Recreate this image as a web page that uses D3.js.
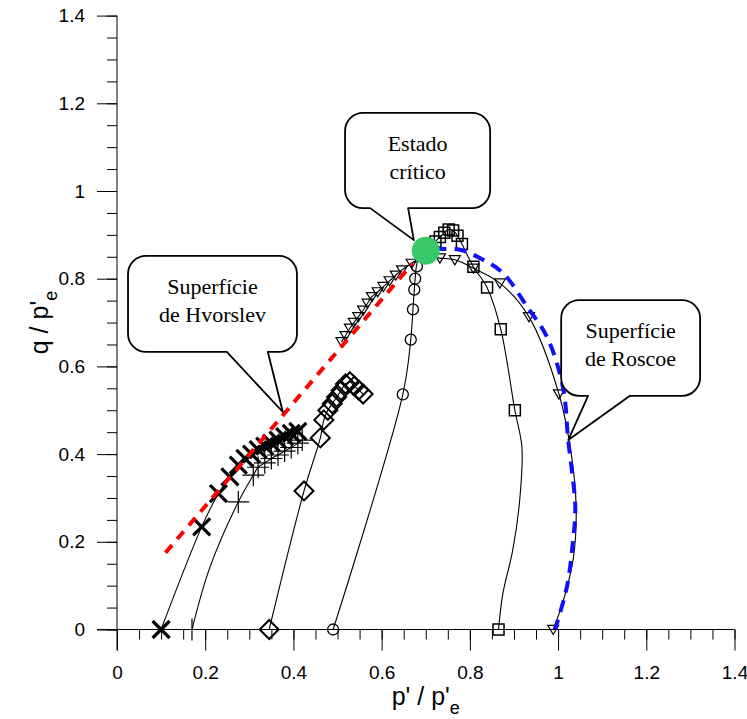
<!DOCTYPE html>
<html lang="en">
<head>
    <meta charset="UTF-8">
    <title>Trajetórias de tensões q/p'e x p'/p'e</title>
    <script src="https://d3js.org/d3.v7.min.js"></script>
    <style>
        * { margin: 0; padding: 0; }
        body { background: #fff; }
    </style>
</head>
<body>
    <script>
        var width = 747;
        var height = 719;

        // axis ticks
        var pTicks = [0, 0.2, 0.4, 0.6, 0.8, 1, 1.2, 1.4];
        var qTicks = [0, 0.2, 0.4, 0.6, 0.8, 1, 1.2, 1.4];
        var minorTicks = d3.range(0, 1.4001, 0.05);

        // series: [p'/p'e, q/p'e]
        var crossPath = [[0.10, 0], [0.192, 0.234], [0.23, 0.31], [0.256, 0.348], [0.275, 0.375], [0.29, 0.39], [0.305, 0.40], [0.32, 0.41], [0.335, 0.418], [0.35, 0.425], [0.365, 0.432], [0.38, 0.44], [0.395, 0.447], [0.41, 0.452]];
        var crossMarks = crossPath;

        var plusPath = [[0.17, 0], [0.21, 0.14], [0.275, 0.291], [0.309, 0.352], [0.32, 0.37], [0.335, 0.38], [0.35, 0.39], [0.365, 0.398], [0.38, 0.407], [0.395, 0.415], [0.41, 0.425], [0.42, 0.432]];
        var plusMarks = [[0.17, 0], [0.275, 0.291], [0.309, 0.352], [0.32, 0.37], [0.335, 0.38], [0.35, 0.39], [0.365, 0.398], [0.38, 0.407], [0.395, 0.415], [0.41, 0.425], [0.42, 0.432]];

        var diamondPath = [[0.345, 0], [0.424, 0.316], [0.461, 0.437], [0.469, 0.478], [0.478, 0.5], [0.488, 0.515], [0.498, 0.53], [0.508, 0.545], [0.518, 0.56], [0.528, 0.565], [0.538, 0.555], [0.548, 0.546], [0.558, 0.537]];
        var diamondMarks = diamondPath;

        var circlePath = [[0.49, 0], [0.648, 0.536], [0.666, 0.661], [0.671, 0.73], [0.674, 0.775], [0.676, 0.80], [0.68, 0.835], [0.69, 0.86]];
        var circleMarks = [[0.49, 0], [0.648, 0.536], [0.666, 0.661], [0.671, 0.73], [0.674, 0.775], [0.676, 0.80], [0.68, 0.828]];

        var squarePath = [[0.865, 0], [0.875, 0.083], [0.897, 0.18], [0.913, 0.295], [0.918, 0.416], [0.902, 0.5], [0.87, 0.685], [0.839, 0.78], [0.808, 0.827], [0.782, 0.879], [0.772, 0.898], [0.762, 0.91], [0.752, 0.912], [0.742, 0.905], [0.732, 0.895], [0.722, 0.885], [0.712, 0.872]];
        var squareMarks = [[0.865, 0], [0.902, 0.5], [0.87, 0.685], [0.839, 0.78], [0.808, 0.827], [0.782, 0.879], [0.772, 0.898], [0.762, 0.91], [0.752, 0.912], [0.742, 0.905], [0.732, 0.895], [0.722, 0.885]];

        var triPath = [[0.989, 0], [1.012, 0.066], [1.035, 0.165], [1.041, 0.278], [1.03, 0.40], [1.002, 0.537], [0.934, 0.713], [0.868, 0.79], [0.808, 0.824], [0.766, 0.843], [0.732, 0.847], [0.70, 0.852]];
        var triMarks = [[0.989, 0], [1.002, 0.537], [0.934, 0.713], [0.868, 0.79], [0.808, 0.824], [0.766, 0.843], [0.732, 0.847]];

        var tri2Path = [[0.509, 0.656], [0.518, 0.67], [0.528, 0.687], [0.537, 0.70], [0.547, 0.713], [0.558, 0.728], [0.568, 0.744], [0.578, 0.759], [0.591, 0.77], [0.604, 0.782], [0.618, 0.795], [0.632, 0.808], [0.646, 0.82], [0.668, 0.835], [0.69, 0.85]];
        var tri2Marks = tri2Path;

        // surfaces
        var hvorslev = [[0.11, 0.175], [0.67, 0.835]];
        var roscoe = [[0.72, 0.868], [0.739, 0.868], [0.778, 0.866], [0.83, 0.843], [0.875, 0.813], [0.93, 0.736], [0.975, 0.667], [1.011, 0.553], [1.023, 0.432], [1.039, 0.279], [1.034, 0.204], [1.02, 0.097], [0.993, 0]];
        var criticalState = [0.70, 0.864];

        // callouts: box [left, top, right, bottom], gap on bottom edge, tip  (data units)
        var callouts = [
            { lines: ['Estado', 'crítico'], box: [0.517, 1.178, 0.846, 0.961], gap: [0.574, 0.66], tip: [0.673, 0.888] },
            { lines: ['Superfície', 'de Hvorslev'], box: [0.025, 0.852, 0.408, 0.633], gap: [0.249, 0.342], tip: [0.376, 0.496] },
            { lines: ['Superfície', 'de Roscoe'], box: [1.007, 0.751, 1.322, 0.533], gap: [1.068, 1.163], tip: [1.023, 0.432] }
        ];

        var svg = d3.select('body').append('svg')
            .attr('width', width)
            .attr('height', height);

        var x = d3.scaleLinear().domain([0, 1.4]).range([117, 734.5]);
        var y = d3.scaleLinear().domain([0, 1.4]).range([629.5, 15.6]);

        // axes
        var axisFont = '"Liberation Sans", Arial, sans-serif';

        svg.append('g')
            .attr('transform', 'translate(0,' + y(0) + ')')
            .call(d3.axisBottom(x).tickValues(minorTicks).tickSize(10).tickFormat('').tickSizeOuter(0));
        svg.append('g')
            .attr('transform', 'translate(0,' + y(0) + ')')
            .call(d3.axisBottom(x).tickValues(pTicks).tickSize(21).tickPadding(15).tickFormat(d3.format('~g')).tickSizeOuter(0));
        svg.append('g')
            .attr('transform', 'translate(' + x(0) + ',0)')
            .call(d3.axisLeft(y).tickValues(minorTicks).tickSize(10).tickFormat('').tickSizeOuter(0));
        svg.append('g')
            .attr('transform', 'translate(' + x(0) + ',0)')
            .call(d3.axisLeft(y).tickValues(qTicks).tickSize(20).tickPadding(12).tickFormat(d3.format('~g')).tickSizeOuter(0));

        svg.selectAll('.domain').remove();
        svg.selectAll('.tick line').attr('stroke', '#000');
        svg.selectAll('.tick text')
            .attr('fill', '#000')
            .style('font-family', axisFont)
            .style('font-size', '19px');

        svg.append('line')
            .attr('x1', x(0)).attr('x2', x(0))
            .attr('y1', y(1.4)).attr('y2', y(0) + 21)
            .attr('stroke', '#000');
        svg.append('line')
            .attr('x1', x(0) - 20).attr('x2', x(1.4))
            .attr('y1', y(0)).attr('y2', y(0))
            .attr('stroke', '#000');

        // axis titles
        var xt = svg.append('text')
            .attr('x', (x(0) + x(1.4)) / 2)
            .attr('y', 705)
            .attr('text-anchor', 'middle')
            .style('font-family', axisFont)
            .style('font-size', '25px');
        xt.append('tspan').text("p' / p'");
        xt.append('tspan').attr('dy', 9).style('font-size', '18px').text('e');

        var yt = svg.append('text')
            .attr('transform', 'translate(48,' + ((y(0) + y(1.4)) / 2) + ') rotate(-90)')
            .attr('text-anchor', 'middle')
            .style('font-family', axisFont)
            .style('font-size', '25px');
        yt.append('tspan').text("q / p'");
        yt.append('tspan').attr('dy', 9).style('font-size', '18px').text('e');

        // markers
        function markerPath(type, s) {
            var h = s / 2;
            if (type === 'cross') return 'M' + (-h) + ',' + (-h) + 'L' + h + ',' + h + 'M' + (-h) + ',' + h + 'L' + h + ',' + (-h);
            if (type === 'plus') return 'M0,' + (-h) + 'V' + h + 'M' + (-h) + ',0H' + h;
            if (type === 'diamond') return 'M0,' + (-h) + 'L' + h + ',0L0,' + h + 'L' + (-h) + ',0Z';
            if (type === 'square') return 'M' + (-h) + ',' + (-h) + 'H' + h + 'V' + h + 'H' + (-h) + 'Z';
            if (type === 'tri') return 'M' + (-h) + ',' + (-h * 0.75) + 'H' + h + 'L0,' + (h * 0.9) + 'Z';
            if (type === 'circle') return d3.arc()({ innerRadius: 0, outerRadius: h, startAngle: 0, endAngle: 2 * Math.PI });
        }

        var line = d3.line()
            .x(function (d) { return x(d[0]); })
            .y(function (d) { return y(d[1]); })
            .curve(d3.curveCatmullRom.alpha(0.5));

        var series = [
            { path: crossPath, marks: crossMarks, type: 'cross', size: 17, sw: 3.2 },
            { path: plusPath, marks: plusMarks, type: 'plus', size: 22, sw: 1.2 },
            { path: diamondPath, marks: diamondMarks, type: 'diamond', size: 19, sw: 2 },
            { path: circlePath, marks: circleMarks, type: 'circle', size: 11, sw: 1.3 },
            { path: squarePath, marks: squareMarks, type: 'square', size: 11, sw: 1.5 },
            { path: triPath, marks: triMarks, type: 'tri', size: 11, sw: 1.2 },
            { path: tri2Path, marks: tri2Marks, type: 'tri', size: 11, sw: 1.2 }
        ];

        series.forEach(function (s) {
            svg.append('path')
                .datum(s.path)
                .attr('d', line)
                .attr('fill', 'none')
                .attr('stroke', '#000')
                .attr('stroke-width', 1.1);
            svg.append('g').selectAll('path')
                .data(s.marks)
                .enter()
                .append('path')
                .attr('transform', function (d) { return 'translate(' + x(d[0]) + ',' + y(d[1]) + ')'; })
                .attr('d', markerPath(s.type, s.size))
                .attr('fill', 'none')
                .attr('stroke', '#000')
                .attr('stroke-width', s.sw);
        });

        // Hvorslev and Roscoe surfaces
        svg.append('path')
            .datum(hvorslev)
            .attr('d', line)
            .attr('fill', 'none')
            .attr('stroke', '#ff0000')
            .attr('stroke-width', 4)
            .attr('stroke-dasharray', '10,8');
        svg.append('path')
            .datum(roscoe)
            .attr('d', line)
            .attr('fill', 'none')
            .attr('stroke', '#1010ff')
            .attr('stroke-width', 4)
            .attr('stroke-dasharray', '12,8');

        // critical state
        svg.append('circle')
            .attr('cx', x(criticalState[0]))
            .attr('cy', y(criticalState[1]))
            .attr('r', 14)
            .attr('fill', '#38c86a');

        // callouts
        function calloutPath(c) {
            var x0 = x(c.box[0]), y0 = y(c.box[1]), x1 = x(c.box[2]), y1 = y(c.box[3]);
            var r = 18;
            var p = d3.path();
            p.moveTo(x0 + r, y0);
            p.lineTo(x1 - r, y0);
            p.arcTo(x1, y0, x1, y0 + r, r);
            p.lineTo(x1, y1 - r);
            p.arcTo(x1, y1, x1 - r, y1, r);
            p.lineTo(x(c.gap[1]), y1);
            p.lineTo(x(c.tip[0]), y(c.tip[1]));
            p.lineTo(x(c.gap[0]), y1);
            p.lineTo(x0 + r, y1);
            p.arcTo(x0, y1, x0, y1 - r, r);
            p.lineTo(x0, y0 + r);
            p.arcTo(x0, y0, x0 + r, y0, r);
            p.closePath();
            return p.toString();
        }

        var co = svg.selectAll('.callout')
            .data(callouts)
            .enter()
            .append('g')
            .attr('class', 'callout');

        co.append('path')
            .attr('d', calloutPath)
            .attr('fill', '#fff')
            .attr('stroke', '#000')
            .attr('stroke-width', 1.8)
            .attr('stroke-linejoin', 'round');

        co.each(function (c) {
            var cx = (x(c.box[0]) + x(c.box[2])) / 2;
            var cy = (y(c.box[1]) + y(c.box[3])) / 2;
            d3.select(this).selectAll('text')
                .data(c.lines)
                .enter()
                .append('text')
                .attr('x', cx)
                .attr('y', function (d, i) { return cy - 10 + i * 28; })
                .attr('text-anchor', 'middle')
                .style('font-family', '"Liberation Serif", "Times New Roman", serif')
                .style('font-size', '22px')
                .text(function (d) { return d; });
        });
    </script>
</body>
</html>
